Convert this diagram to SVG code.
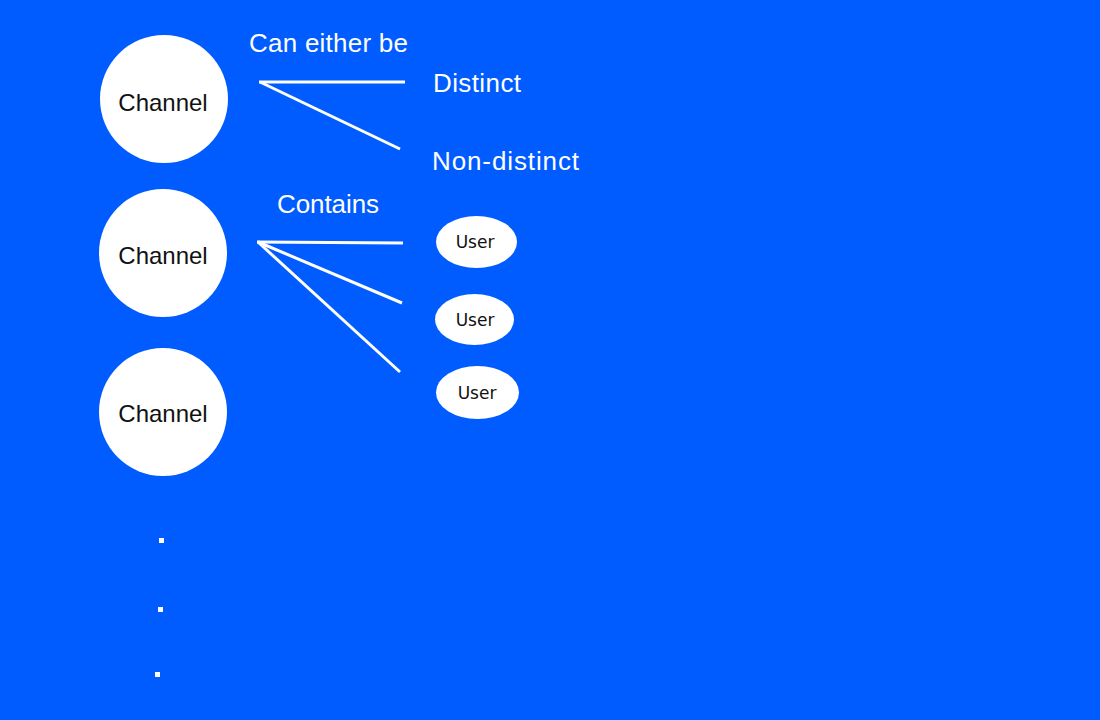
<svg xmlns="http://www.w3.org/2000/svg" width="1100" height="720" viewBox="0 0 1100 720">
<style>
.chan{fill:#fff}
.ct{font-family:"Liberation Sans",Arial,sans-serif;font-size:24px;fill:#111;text-anchor:middle}
.lbl{font-family:"Liberation Sans",Arial,sans-serif;font-size:26px;fill:#fff}
.ut{font-family:"DejaVu Sans",Verdana,sans-serif;font-size:17px;fill:#111;text-anchor:middle}
.edge{stroke:#fff;stroke-width:3;fill:none;stroke-linecap:butt}
</style>
<rect x="0" y="0" width="1100" height="720" fill="#005cff"/>
<g id="connectors">
<line class="edge" x1="259" y1="82" x2="405" y2="82"/>
<line class="edge" x1="260" y1="82" x2="400" y2="149"/>
<line class="edge" x1="257" y1="242" x2="403" y2="243"/>
<line class="edge" x1="258" y1="242" x2="402" y2="303"/>
<line class="edge" x1="258" y1="242" x2="400" y2="372"/>
</g>
<g id="labels">
<text class="lbl" x="249" y="52" textLength="159">Can either be</text>
<text class="lbl" x="433" y="92" textLength="88">Distinct</text>
<text class="lbl" x="432" y="170" textLength="147">Non-distinct</text>
<text class="lbl" x="277" y="213" textLength="102">Contains</text>
</g>
<g id="channel1">
<circle class="chan" cx="164" cy="99" r="64"/>
<text class="ct" x="163" y="111">Channel</text>
</g>
<g id="channel2">
<circle class="chan" cx="163" cy="253" r="64"/>
<text class="ct" x="163" y="264">Channel</text>
</g>
<g id="channel3">
<circle class="chan" cx="163" cy="412" r="64"/>
<text class="ct" x="163" y="422">Channel</text>
</g>
<g id="user1">
<ellipse class="chan" cx="476.5" cy="242" rx="40.5" ry="26"/>
<text class="ut" x="475" y="248">User</text>
</g>
<g id="user2">
<ellipse class="chan" cx="474.5" cy="319.5" rx="39.5" ry="25.5"/>
<text class="ut" x="475" y="326">User</text>
</g>
<g id="user3">
<ellipse class="chan" cx="477.5" cy="392.5" rx="41.5" ry="26.5"/>
<text class="ut" x="477" y="399">User</text>
</g>
<g id="ellipsis" fill="#fff">
<rect x="159" y="538" width="5" height="5"/>
<rect x="158" y="607" width="5" height="5"/>
<rect x="155" y="672" width="5" height="5"/>
</g>
</svg>
